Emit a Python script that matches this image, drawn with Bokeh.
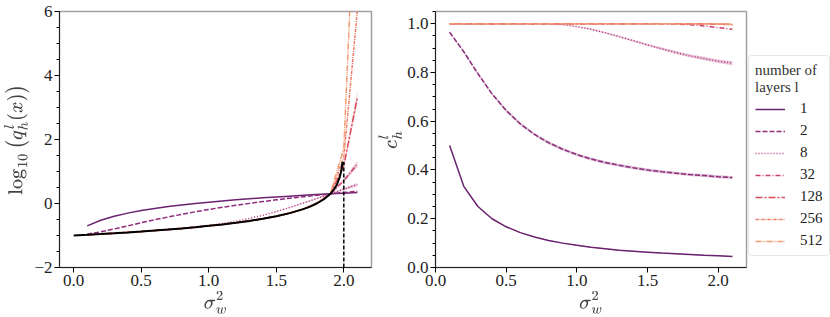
from bokeh.plotting import figure
from bokeh.layouts import row
from bokeh.models import (FixedTicker, SingleIntervalTicker, Legend, LegendItem,
                          Range1d, NumeralTickFormatter, ColumnDataSource)
from bokeh.embed import file_html
from bokeh.resources import INLINE

# ---------------- data ----------------
sigma_w2 = [0.1, 0.2, 0.3, 0.4, 0.5, 0.6, 0.7, 0.8, 0.9, 1.0, 1.1,
            1.2, 1.3, 1.4, 1.5, 1.6, 1.7, 1.8, 1.9, 2.0, 2.1]
layer_labels = ["1", "2", "8", "32", "128", "256", "512"]

# left panel: log10 q_h^l(x)
logq_1 = [-0.699, -0.523, -0.398, -0.301, -0.222, -0.155, -0.097, -0.046, 0.000, 0.041, 0.079,
          0.114, 0.146, 0.176, 0.204, 0.230, 0.255, 0.279, 0.301, 0.322, 0.342]
logq_2 = [-0.959, -0.886, -0.796, -0.699, -0.602, -0.509, -0.420, -0.337, -0.260, -0.187, -0.119,
          -0.056, 0.004, 0.061, 0.114, 0.164, 0.212, 0.258, 0.301, 0.342, 0.382]
logq_8 = [-0.978, -0.954, -0.929, -0.903, -0.875, -0.845, -0.812, -0.775, -0.733, -0.684, -0.625,
          -0.554, -0.468, -0.367, -0.252, -0.124, 0.013, 0.155, 0.301, 0.447, 0.592]
logq_32 = [-0.978, -0.954, -0.929, -0.903, -0.875, -0.845, -0.813, -0.778, -0.740, -0.699, -0.653,
           -0.602, -0.544, -0.477, -0.398, -0.300, -0.171, 0.015, 0.301, 0.716, 1.232]
logq_128 = [-0.978, -0.954, -0.929, -0.903, -0.875, -0.845, -0.813, -0.778, -0.740, -0.699, -0.653,
            -0.602, -0.544, -0.477, -0.398, -0.301, -0.176, 0.000, 0.301, 1.170, 3.314]
logq_256 = [-0.978, -0.954, -0.929, -0.903, -0.875, -0.845, -0.813, -0.778, -0.740, -0.699, -0.653,
            -0.602, -0.544, -0.477, -0.398, -0.301, -0.176, 0.000, 0.301, 1.441, 6.030]
logq_512 = [-0.978, -0.954, -0.929, -0.903, -0.875, -0.845, -0.813, -0.778, -0.740, -0.699, -0.653,
            -0.602, -0.544, -0.477, -0.398, -0.301, -0.176, 0.000, 0.301, 1.726, 11.45]

logq_std_8 = [0, 0, 0, 0, 0, 0, 0, 0, 0, 0, 0, 0, 0, 0,
              0.010, 0.012, 0.015, 0.020, 0.025, 0.035, 0.050]
logq_std_32 = [0, 0, 0, 0, 0, 0, 0, 0, 0, 0, 0, 0, 0, 0, 0, 0,
               0.010, 0.015, 0.020, 0.050, 0.100]
logq_std_128 = [0, 0, 0, 0, 0, 0, 0, 0, 0, 0, 0, 0, 0, 0, 0, 0, 0, 0,
                0.020, 0.060, 0.180]

# theoretical fixed point (black) and critical sigma_w^2
theory_sigma = [0.0, 0.1, 0.2, 0.3, 0.4, 0.5, 0.6, 0.7, 0.8, 0.9, 1.0, 1.1, 1.2, 1.3, 1.4,
                1.5, 1.6, 1.7, 1.75, 1.8, 1.85, 1.9, 1.93, 1.95, 1.97, 1.98, 1.985, 1.99]
theory_logq = [-1.0, -0.978, -0.954, -0.929, -0.903, -0.875, -0.845, -0.813, -0.778, -0.740,
               -0.699, -0.653, -0.602, -0.544, -0.477, -0.398, -0.301, -0.176, -0.097, 0.0,
               0.125, 0.301, 0.456, 0.602, 0.824, 1.0, 1.125, 1.301]
critical_sigma = [2.0]
critical_top = [1.301]

# right panel: correlation c_h^l
c_1 = [0.500, 0.333, 0.250, 0.200, 0.167, 0.143, 0.125, 0.111, 0.100, 0.091, 0.083,
       0.077, 0.071, 0.067, 0.063, 0.059, 0.056, 0.053, 0.050, 0.048, 0.045]
c_2 = [0.965, 0.885, 0.795, 0.712, 0.644, 0.589, 0.546, 0.512, 0.485, 0.463, 0.445,
       0.431, 0.419, 0.409, 0.400, 0.393, 0.387, 0.381, 0.377, 0.372, 0.369]
c_8 = [1.000, 1.000, 1.000, 1.000, 1.000, 1.000, 1.000, 0.999, 0.996, 0.988, 0.977,
       0.963, 0.947, 0.930, 0.913, 0.897, 0.882, 0.868, 0.857, 0.846, 0.838]
c_32 = [1.000, 1.000, 1.000, 1.000, 1.000, 1.000, 1.000, 1.000, 1.000, 1.000, 1.000,
        1.000, 1.000, 1.000, 1.000, 1.000, 0.999, 0.996, 0.991, 0.984, 0.977]
c_128 = [1.000, 1.000, 1.000, 1.000, 1.000, 1.000, 1.000, 1.000, 1.000, 1.000, 1.000,
         1.000, 1.000, 1.000, 1.000, 1.000, 1.000, 1.000, 0.999, 0.998, 0.996]
c_256 = [1.000, 1.000, 1.000, 1.000, 1.000, 1.000, 1.000, 1.000, 1.000, 1.000, 1.000,
         1.000, 1.000, 1.000, 1.000, 1.000, 1.000, 1.000, 1.000, 0.999, 0.997]
c_512 = [1.000, 1.000, 1.000, 1.000, 1.000, 1.000, 1.000, 1.000, 1.000, 1.000, 1.000,
         1.000, 1.000, 1.000, 1.000, 1.000, 1.000, 1.000, 1.000, 0.999, 0.997]

c_std_1 = [0.003, 0.003, 0.002, 0.002, 0.002, 0.002, 0.002, 0.002, 0.002, 0.002, 0.002,
           0.002, 0.002, 0.002, 0.002, 0.002, 0.002, 0.002, 0.002, 0.002, 0.002]
c_std_2 = [0.003, 0.004, 0.005, 0.005, 0.006, 0.006, 0.006, 0.006, 0.006, 0.006, 0.006,
           0.006, 0.006, 0.006, 0.006, 0.006, 0.006, 0.006, 0.006, 0.006, 0.006]
c_std_8 = [0, 0, 0, 0, 0, 0, 0, 0, 0.001, 0.002, 0.003,
           0.003, 0.004, 0.004, 0.005, 0.005, 0.006, 0.006, 0.007, 0.007, 0.008]

colors = ["#6b2370", "#8e2d7b", "#b23a80", "#c9406e", "#dc4b5a", "#ec7a62", "#f29b70"]
dashes = ["solid", "5 2", "1 2", "5 2 1 2", "7 2 2 2", "3 1 1 1", "6 1 1 1 1 1"]

logq_series = [logq_1, logq_2, logq_8, logq_32, logq_128, logq_256, logq_512]
logq_stds = {2: logq_std_8, 3: logq_std_32, 4: logq_std_128}
c_series = [c_1, c_2, c_8, c_32, c_128, c_256, c_512]
c_stds = {0: c_std_1, 1: c_std_2, 2: c_std_8}

FONT = "'Liberation Serif', 'DejaVu Serif', serif"
TICK_FS = "17px"


def style(p):
    p.outline_line_color = "#a0a0a0"
    p.outline_line_width = 1.5
    p.grid.visible = False
    p.background_fill_color = "white"
    p.border_fill_color = "white"
    for ax in (p.xaxis, p.yaxis):
        ax.axis_line_color = "#222222"
        ax.axis_line_width = 1.0
        ax.major_tick_out = 5
        ax.major_tick_in = 0
        ax.minor_tick_out = 3
        ax.minor_tick_in = 0
        ax.major_label_text_font = FONT
        ax.major_label_text_font_size = TICK_FS
        ax.major_label_text_color = "#222222"
        ax.axis_label_text_font_size = "16px"
        ax.major_label_standoff = 2
        ax.axis_label_standoff = 2
    p.xaxis.minor_tick_line_color = None
    p.xaxis.ticker = FixedTicker(ticks=[0.0, 0.5, 1.0, 1.5, 2.0])
    p.xaxis.formatter = NumeralTickFormatter(format="0.0")
    p.xaxis.axis_label = r"$$\sigma_w^2$$"


# ---------------- left panel ----------------
p1 = figure(frame_width=312, frame_height=256, output_backend="svg", toolbar_location=None,
            x_range=Range1d(-0.105, 2.205), y_range=Range1d(-2, 6),
            min_border_left=44, min_border_right=4, min_border_top=11, min_border_bottom=10)
style(p1)
p1.yaxis.ticker = SingleIntervalTicker(interval=2, num_minor_ticks=4)
p1.yaxis.major_label_overrides = {-2: "\u22122"}
p1.yaxis.axis_label = r"$$\log_{10}\left(q_h^l(x)\right)$$"

for i, ys in enumerate(logq_series):
    if i in logq_stds:
        sd = logq_stds[i]
        src = ColumnDataSource(dict(x=sigma_w2, lo=[a - b for a, b in zip(ys, sd)],
                                    hi=[a + b for a, b in zip(ys, sd)]))
        p1.varea(x="x", y1="lo", y2="hi", source=src, fill_color=colors[i], fill_alpha=0.3)
for i, ys in enumerate(logq_series):
    p1.line(sigma_w2, ys, line_color=colors[i], line_width=1.5, line_dash=dashes[i])

p1.line(theory_sigma, theory_logq, line_color="black", line_width=2)
p1.segment(x0=critical_sigma, y0=[-2], x1=critical_sigma, y1=critical_top,
           line_color="black", line_width=1.5, line_dash="4 2")

# ---------------- right panel ----------------
p2 = figure(frame_width=311, frame_height=256, output_backend="svg", toolbar_location=None,
            x_range=Range1d(0, 2.2), y_range=Range1d(0, 1.05),
            min_border_left=56, min_border_right=4, min_border_top=11, min_border_bottom=10)
style(p2)
p2.yaxis.ticker = SingleIntervalTicker(interval=0.2, num_minor_ticks=4)
p2.yaxis.formatter = NumeralTickFormatter(format="0.0")
p2.yaxis.axis_label = r"$$c_h^l$$"

for i, ys in enumerate(c_series):
    if i in c_stds:
        sd = c_stds[i]
        src = ColumnDataSource(dict(x=sigma_w2, lo=[a - b for a, b in zip(ys, sd)],
                                    hi=[a + b for a, b in zip(ys, sd)]))
        p2.varea(x="x", y1="lo", y2="hi", source=src, fill_color=colors[i], fill_alpha=0.3)
items = []
for i, ys in enumerate(c_series):
    r = p2.line(sigma_w2, ys, line_color=colors[i], line_width=1.5, line_dash=dashes[i])
    items.append(LegendItem(label=layer_labels[i], renderers=[r]))

legend = Legend(items=items, title="number of\nlayers l", location=(2, 11))
legend.title_text_font = FONT
legend.title_text_font_size = "15px"
legend.title_text_font_style = "normal"
legend.title_text_color = "#333333"
legend.title_standoff = 4
legend.label_text_font = FONT
legend.label_text_font_size = "15px"
legend.label_text_color = "#222222"
legend.glyph_width = 30
legend.glyph_height = 16
legend.label_height = 16
legend.spacing = 5
legend.label_standoff = 15
legend.padding = 6
legend.margin = 0
legend.border_line_color = "#d0d0d0"
legend.border_line_width = 1
legend.border_radius = 4
legend.background_fill_alpha = 0.9
p2.add_layout(legend, "right")

layout = row(p1, p2, spacing=0)
open("out.html", "w").write(file_html(layout, INLINE))
